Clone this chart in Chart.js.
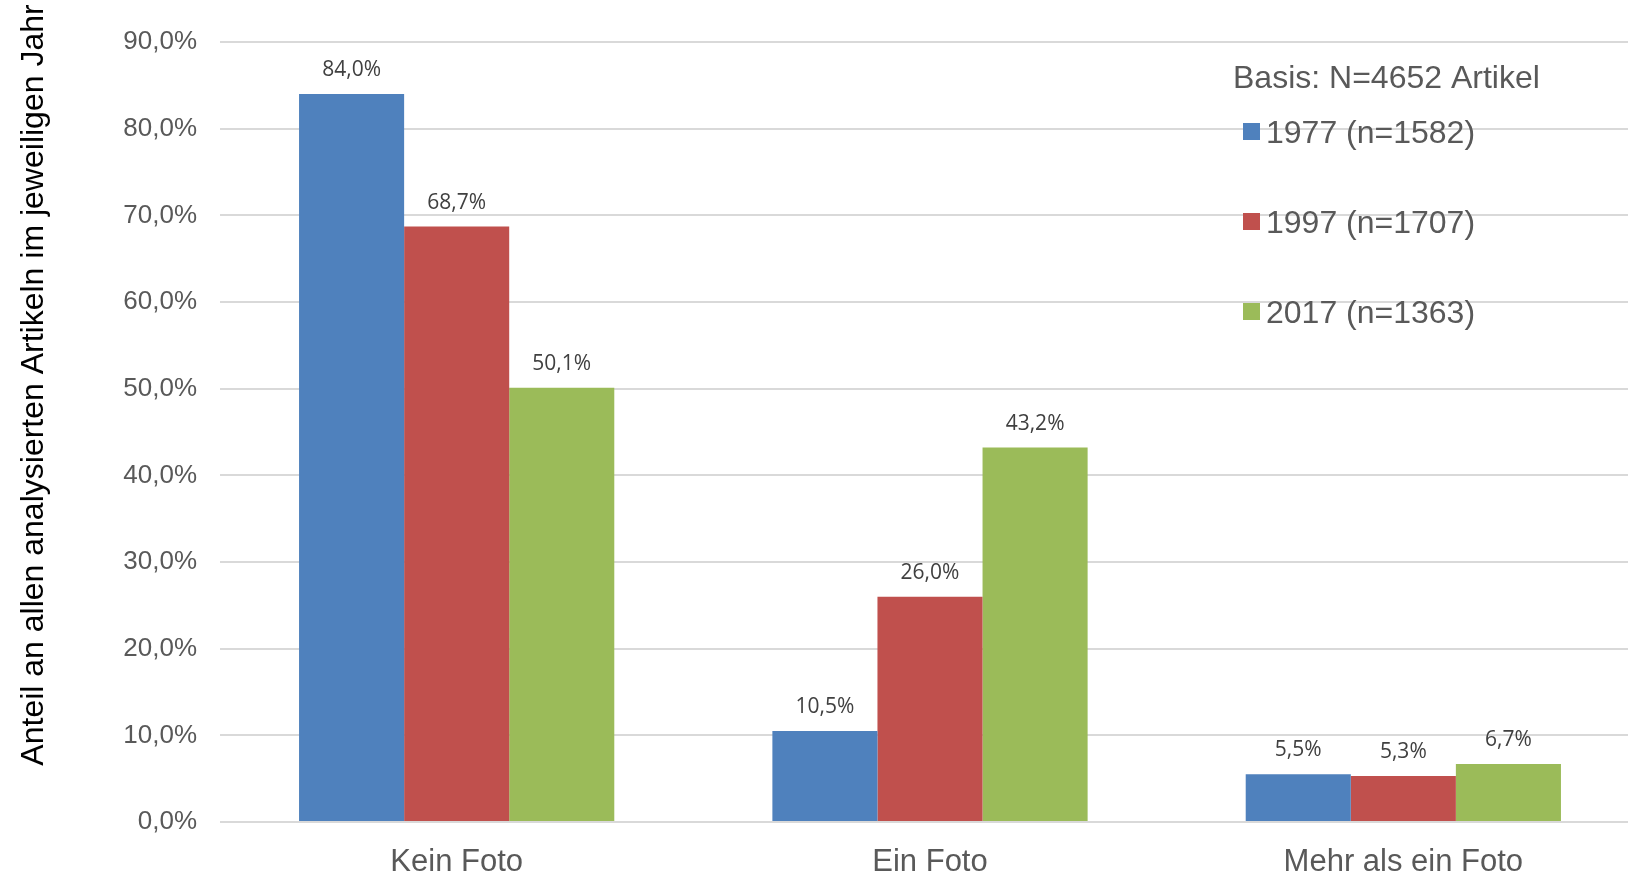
<!DOCTYPE html>
<html lang="de">
<head>
<meta charset="utf-8">
<title>Fotos pro Artikel</title>
<script src="https://cdn.jsdelivr.net/npm/chart.js@4.4.1/dist/chart.umd.min.js"></script>
<style>
  html, body { margin: 0; padding: 0; background: #ffffff; overflow: hidden; }
  #wrap { width: 1640px; height: 875px; position: relative; }
</style>
</head>
<body>
<div id="wrap"><canvas id="fotoChart"></canvas></div>
<script>
// Daten aus der Grafik
const categories = ['Kein Foto', 'Ein Foto', 'Mehr als ein Foto'];
const seriesLabels = ['1977 (n=1582)', '1997 (n=1707)', '2017 (n=1363)'];
const values1977 = [84.0, 10.5, 5.5];
const values1997 = [68.7, 26.0, 5.3];
const values2017 = [50.1, 43.2, 6.7];
const yTickLabels = ['0,0%', '10,0%', '20,0%', '30,0%', '40,0%', '50,0%', '60,0%', '70,0%', '80,0%', '90,0%'];
const legendTitle = 'Basis: N=4652 Artikel';
const yAxisTitle = 'Anteil an allen analysierten Artikeln im jeweiligen Jahr';

const seriesColours = ['#4F81BD', '#C0504D', '#9BBB59'];

function formatPct(v) {
    return v.toFixed(1).replace('.', ',') + '%';
}

/*
    Draws the value above every bar (like Excel data labels).
*/
const valueLabels = {
    id: 'valueLabels',
    afterDatasetsDraw(chart) {
        const ctx = chart.ctx;
        ctx.save();
        ctx.font = '21px "Open Sans"';
        ctx.fillStyle = '#404040';
        ctx.textAlign = 'center';
        ctx.textBaseline = 'alphabetic';
        chart.data.datasets.forEach((ds, i) => {
            chart.getDatasetMeta(i).data.forEach((bar, j) => {
                ctx.fillText(formatPct(ds.data[j]), bar.x, bar.y - 18);
            });
        });
        ctx.restore();
    }
};

/*
    Legend in the top right corner, drawn over the plot area.
*/
const cornerLegend = {
    id: 'cornerLegend',
    afterDraw(chart) {
        const ctx = chart.ctx;
        ctx.save();
        ctx.font = '32px "Liberation Sans", Arial, sans-serif';
        ctx.fillStyle = '#595959';
        ctx.textAlign = 'left';
        ctx.textBaseline = 'alphabetic';
        ctx.fillText(legendTitle, 1233, 88);
        chart.data.datasets.forEach((ds, i) => {
            const base = 143 + i * 90;
            ctx.fillStyle = ds.backgroundColor;
            ctx.fillRect(1243, base - 20, 17, 17);
            ctx.fillStyle = '#595959';
            ctx.fillText(ds.label, 1266, base);
        });
        ctx.restore();
    }
};

/*
    Vertical axis title (sits a bit higher than the plot centre in the original).
*/
const axisTitle = {
    id: 'axisTitle',
    afterDraw(chart) {
        const ctx = chart.ctx;
        ctx.save();
        ctx.font = '32px "Liberation Sans", Arial, sans-serif';
        ctx.fillStyle = '#000000';
        ctx.textAlign = 'center';
        ctx.textBaseline = 'alphabetic';
        ctx.translate(43, 385);
        ctx.rotate(-Math.PI / 2);
        ctx.fillText(yAxisTitle, 0, 0);
        ctx.restore();
    }
};

const allSeries = [values1977, values1997, values2017];
const datasets = allSeries.map((vals, i) => ({
    label: seriesLabels[i],
    data: vals,
    backgroundColor: seriesColours[i],
    borderWidth: 0,
    barPercentage: 1.0,
    categoryPercentage: 0.666
}));

const ctx = document.getElementById('fotoChart').getContext('2d');
const fotoChart = new Chart(ctx, {
    type: 'bar',
    data: { labels: categories, datasets: datasets },
    plugins: [valueLabels, cornerLegend, axisTitle],
    options: {
        responsive: true,
        maintainAspectRatio: false,
        animation: false,
        layout: { padding: { top: 42, right: 0, bottom: 0, left: 0 } },
        scales: {
            x: {
                grid: { display: false, drawTicks: false },
                border: { display: false },
                ticks: {
                    color: '#595959',
                    padding: 22,
                    font: { family: '"Liberation Sans", Arial, sans-serif', size: 31 }
                },
                afterFit(scale) { scale.height = 53; }
            },
            y: {
                min: 0,
                max: 90,
                grid: { color: '#d9d9d9', lineWidth: 2, drawTicks: false },
                border: { display: false },
                ticks: {
                    stepSize: 10,
                    color: '#595959',
                    padding: 23,
                    font: { family: '"Liberation Sans", Arial, sans-serif', size: 26 },
                    callback: (value, index) => yTickLabels[index]
                },
                afterFit(scale) { scale.width = 220; }
            }
        },
        plugins: {
            legend: { display: false },
            tooltip: { enabled: false }
        }
    }
});
</script>
</body>
</html>
